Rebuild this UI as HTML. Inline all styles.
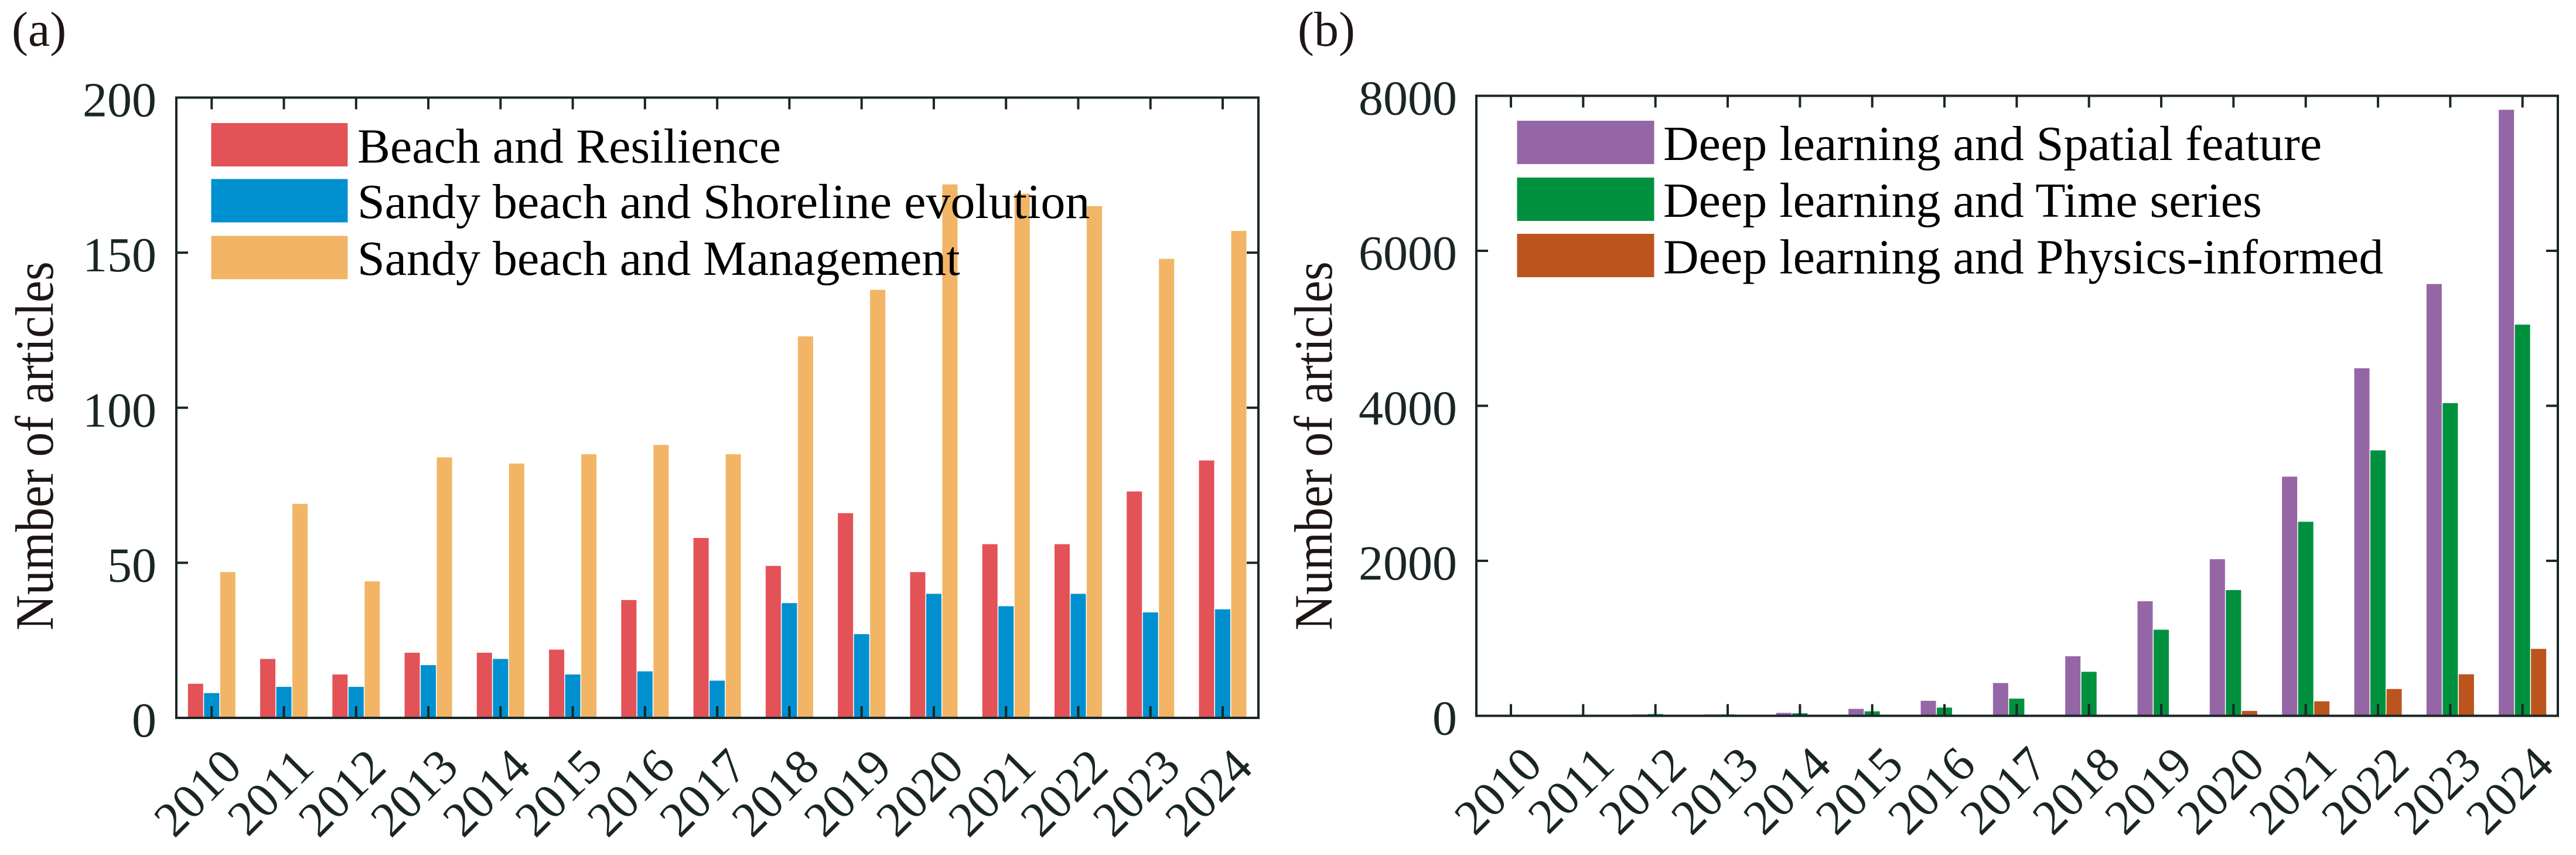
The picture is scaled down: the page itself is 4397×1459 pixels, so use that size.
<!DOCTYPE html>
<html lang="en">
<head>
<meta charset="utf-8">
<title>Annual article counts by topic</title>
<style>
html,body{margin:0;padding:0;background:#fff;}
body{width:4397px;height:1459px;overflow:hidden;}
svg{display:block;}
text{font-family:"Liberation Serif","Times New Roman",serif;}
</style>
</head>
<body>
<svg id="figure" xmlns="http://www.w3.org/2000/svg" width="4397" height="1459" viewBox="0 0 4397 1459"></svg>
<script>
// ---- chart data ----
const years = ['2010','2011','2012','2013','2014','2015','2016','2017','2018','2019','2020','2021','2022','2023','2024'];

const beachResilience = [11,19,14,21,21,22,38,58,49,66,47,56,56,73,83];
const shorelineEvolution = [8,10,10,17,19,14,15,12,37,27,40,36,40,34,35];
const sandyManagement = [47,69,44,84,82,85,88,85,123,138,172,169,165,148,157];
const yTicksA = [0,50,100,150,200];
const seriesNamesA = ['Beach and Resilience','Sandy beach and Shoreline evolution','Sandy beach and Management'];

const spatialFeature = [5,8,18,18,38,90,194,423,769,1478,2021,3086,4485,5572,7820];
const timeSeries = [12,15,23,18,33,58,106,222,568,1111,1623,2504,3425,4035,5048];
const physicsInformed = [0,0,0,0,0,0,0,0,0,15,63,187,346,536,864];
const yTicksB = [0,2000,4000,6000,8000];
const seriesNamesB = ['Deep learning and Spatial feature','Deep learning and Time series','Deep learning and Physics-informed'];

const yAxisTitle = 'Number of articles';

// ---- styling / layout ----
const svg = document.getElementById('figure');
const NS = 'http://www.w3.org/2000/svg';
const INK = '#1a2626';
const FONT = 84;

function make(tag, attrs, text) {
  const node = document.createElementNS(NS, tag);
  for (const k in attrs) node.setAttribute(k, attrs[k]);
  if (text !== undefined) node.textContent = text;
  return node;
}

function drawPanel(p) {
  const g = make('g', {});
  
  
  svg.appendChild(g);

  const maxTick = p.yTicks[p.yTicks.length - 1];
  const yScale = v => p.y0 + (p.yTop - p.y0) * (v / maxTick);
  const xScale = i => p.firstTick + i * (p.lastTick - p.firstTick) / (p.categories.length - 1);
  const barW = 26;
  const offsets = [-40.5, -13, 14.5];

  // bars
  p.series.forEach((values, s) => {
    values.forEach((v, i) => {
      const top = yScale(v);
      const bar = make('rect', {x: xScale(i) + offsets[s], y: top, width: barW, height: Math.max(0, p.y0 - top), fill: p.colors[s]});
      
      
      g.appendChild(bar);
    });
  });

  // legend
  p.seriesNames.forEach((name, s) => {
    const swatch = make('rect', {x: p.legendX, y: p.legendY[s], width: p.legendW, height: 74, fill: p.colors[s]});
    
    
    g.appendChild(swatch);
    const label = make('text', {x: p.legendTextX, y: p.legendBase[s], 'font-size': FONT, fill: '#000'}, name);
    
    
    g.appendChild(label);
  });

  // x ticks (bottom and top) and rotated labels
  p.categories.forEach((c, i) => {
    const x = xScale(i);
    const bottomTick = make('line', {x1: x, x2: x, y1: p.y0, y2: p.y0 - 20, stroke: INK, 'stroke-width': 4});
    
    
    g.appendChild(bottomTick);
    const topTick = make('line', {x1: x, x2: x, y1: p.yTop, y2: p.yTop + 20, stroke: INK, 'stroke-width': 4});
    
    
    g.appendChild(topTick);
    const ax = x + p.xLabelDx;
    const ay = p.y0 + p.xLabelDy;
    const label = make('text', {x: ax, y: ay, 'font-size': FONT, fill: INK, 'text-anchor': 'end', transform: 'rotate(-45 ' + ax + ' ' + ay + ')'}, c);
    
    
    g.appendChild(label);
  });

  // y ticks and labels
  p.yTicks.forEach(v => {
    const y = yScale(v);
    if (v !== 0 && v !== maxTick) {
      const leftTick = make('line', {x1: p.left, x2: p.left + 20, y1: y, y2: y, stroke: INK, 'stroke-width': 4});
      
      
      g.appendChild(leftTick);
      const rightTick = make('line', {x1: p.right, x2: p.right - 20, y1: y, y2: y, stroke: INK, 'stroke-width': 4});
      
      
      g.appendChild(rightTick);
    }
    const label = make('text', {x: p.yLabelX, y: y + 32, 'font-size': FONT, fill: INK, 'text-anchor': 'end'}, String(v));
    
    
    g.appendChild(label);
  });

  // frame
  const frame = make('rect', {x: p.left, y: p.yTop, width: p.right - p.left, height: p.y0 - p.yTop, fill: 'none', stroke: INK, 'stroke-width': 4});
  
  
  g.appendChild(frame);

  // y-axis title
  const title = make('text', {x: 0, y: 0, 'font-size': FONT, fill: '#1e1614', 'text-anchor': 'middle', transform: 'translate(' + p.titleX + ' 761) rotate(-90) scale(1 1.1)'}, yAxisTitle);
  
  
  g.appendChild(title);

  // panel letter
  const letter = make('text', {x: p.letterX, y: 78, 'font-size': FONT, fill: '#1e1614'}, p.letter);
  
  
  g.appendChild(letter);
}

drawPanel({
  key: 'panel-a', letter: '(a)', letterX: 20,
  categories: years, yTicks: yTicksA,
  series: [beachResilience, shorelineEvolution, sandyManagement],
  seriesNames: seriesNamesA,
  seriesKeys: ['beach-resilience', 'shoreline-evolution', 'sandy-management'],
  colors: ['#E35256', '#0090CF', '#F1B565'],
  left: 301, right: 2148, yTop: 166.5, y0: 1225,
  firstTick: 361.3, lastTick: 2087,
  yLabelX: 267, xLabelDx: 55, xLabelDy: 88, titleX: 90,
  legendX: 360.5, legendW: 233, legendY: [210, 305.5, 402.5],
  legendTextX: 610, legendBase: [277.5, 372, 469]
});

drawPanel({
  key: 'panel-b', letter: '(b)', letterX: 2215,
  categories: years, yTicks: yTicksB,
  series: [spatialFeature, timeSeries, physicsInformed],
  seriesNames: seriesNamesB,
  seriesKeys: ['spatial-feature', 'time-series', 'physics-informed'],
  colors: ['#9566A6', '#00913F', '#BC541E'],
  left: 2520, right: 4366, yTop: 163.5, y0: 1221.5,
  firstTick: 2579, lastTick: 4305.7,
  yLabelX: 2487, xLabelDx: 57, xLabelDy: 88, titleX: 2273,
  legendX: 2589.5, legendW: 234, legendY: [206, 303, 399],
  legendTextX: 2839, legendBase: [273, 370, 466.5]
});
</script>
</body>
</html>
